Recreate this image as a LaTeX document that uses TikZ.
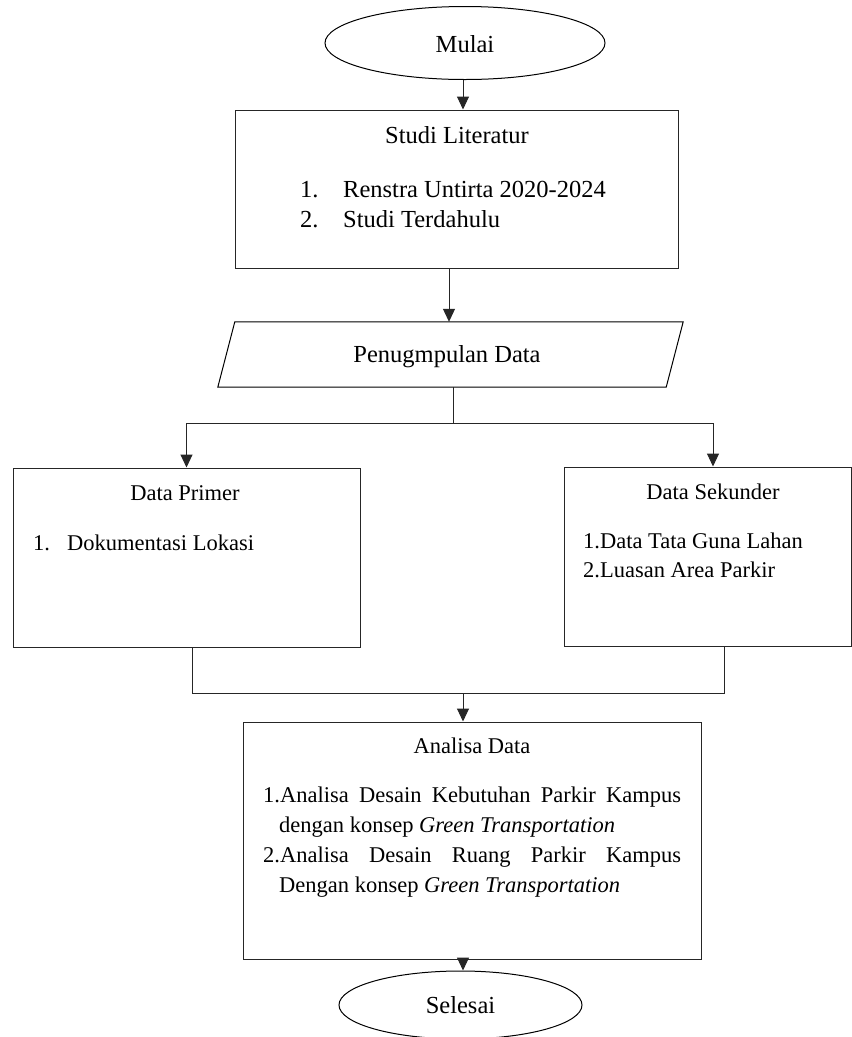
\documentclass[tikz,border=0pt]{standalone}
\usepackage{fontspec}
\setmainfont{Liberation Serif}
\usetikzlibrary{arrows.meta,shapes.geometric}
\tikzset{
  flowline/.style={line width=1pt, draw=black!85},
  arr/.style={flowline, -{Triangle[length=13pt,width=12pt]}},
  term/.style={ellipse, draw, line width=1pt, inner sep=0pt},
  procbox/.style={rectangle, draw=black!85, line width=1pt, inner sep=0pt},
  big/.style={font=\fontsize{24.5}{30}\selectfont},
  small/.style={font=\fontsize{22.5}{29}\selectfont},
  txt/.style={inner sep=0pt, anchor=base},
  txtw/.style={inner sep=0pt, anchor=base west},
}
\begin{document}
\begin{tikzpicture}[x=1pt,y=-1pt]
\useasboundingbox (0,0) rectangle (852,1037);
% Mulai
\node[term, minimum width=280, minimum height=73] (mulai) at (465,43) {};
\node[txt, big] (mulaiT) at (465,52) {Mulai};
% Studi Literatur
\node[procbox, minimum width=443, minimum height=158] (studi) at (456.5,189) {};
\node[txt, big] (studiT) at (457,143) {Studi Literatur};
\node[txtw, big] (s1n) at (300,197) {1.};
\node[txtw, big] (s1) at (343,197) {Renstra Untirta 2020-2024};
\node[txtw, big] (s2n) at (300,227) {2.};
\node[txtw, big] (s2) at (343,227) {Studi Terdahulu};
% Pengumpulan data (parallelogram)
\node[minimum width=448, minimum height=65, inner sep=0pt] (pd) at (450.5,354.5) {};
\draw[line width=1pt] ([xshift=8.5]pd.north west) -- ([xshift=8.5]pd.north east)
  -- ([xshift=-8.5]pd.south east) -- ([xshift=-8.5]pd.south west) -- cycle;
\node[txt, big] (pdT) at (447,362) {Penugmpulan Data};
% Data Primer
\node[procbox, minimum width=347, minimum height=179] (primer) at (186.5,557.5) {};
\node[txt, small] (primerT) at (185,500) {Data Primer};
\node[txtw, small] (p1n) at (33,550) {1.};
\node[txtw, small] (p1) at (67,550) {Dokumentasi Lokasi};
% Data Sekunder
\node[procbox, minimum width=287, minimum height=179] (sek) at (707.5,556.5) {};
\node[txt, small] (sekT) at (713,499) {Data Sekunder};
\node[txtw, small] (k1) at (583,548) {1.Data Tata Guna Lahan};
\node[txtw, small] (k2) at (583,577) {2.Luasan Area Parkir};
% Analisa Data
\node[procbox, minimum width=458, minimum height=237] (analisa) at (472,840.5) {};
\node[txt, small] (anT) at (472,753) {Analisa Data};
\node[txtw, small] (a1) at (263,802) {\makebox[418pt][s]{1.Analisa Desain Kebutuhan Parkir Kampus}};
\node[txtw, small] (a2) at (279,832) {dengan konsep \textit{Green Transportation}};
\node[txtw, small] (a3) at (263,862) {\makebox[418pt][s]{2.Analisa Desain Ruang Parkir Kampus}};
\node[txtw, small] (a4) at (279,892) {Dengan konsep \textit{Green Transportation}};
% Selesai
\node[term, minimum width=243, minimum height=68] (selesai) at (460.5,1005) {};
\node[txt, big] (selesaiT) at (460.5,1013) {Selesai};
% connectors
\coordinate (split) at (453,423);
\coordinate (merge) at (463,693);
\draw[arr] ([xshift=-2]mulai.south) -- ([xshift=-2]mulai.south |- studi.north);
\draw[arr] ([xshift=-7.5]studi.south) -- ([xshift=-7.5]studi.south |- pd.north);
\draw[flowline] (split |- pd.south) -- (split);
\draw[arr] (split) -| (primer.north);
\draw[arr] (split) -| ([xshift=5.5]sek.north);
\draw[flowline] ([xshift=5.5]primer.south) -- ([xshift=5.5]primer.south |- merge) -- (merge);
\draw[flowline] ([xshift=16.5]sek.south) -- ([xshift=16.5]sek.south |- merge) -- (merge);
\draw[arr] (merge) -- (merge |- analisa.north);
\draw[arr] (merge |- analisa.south) -- (merge |- selesai.north);
\end{tikzpicture}
\end{document}
